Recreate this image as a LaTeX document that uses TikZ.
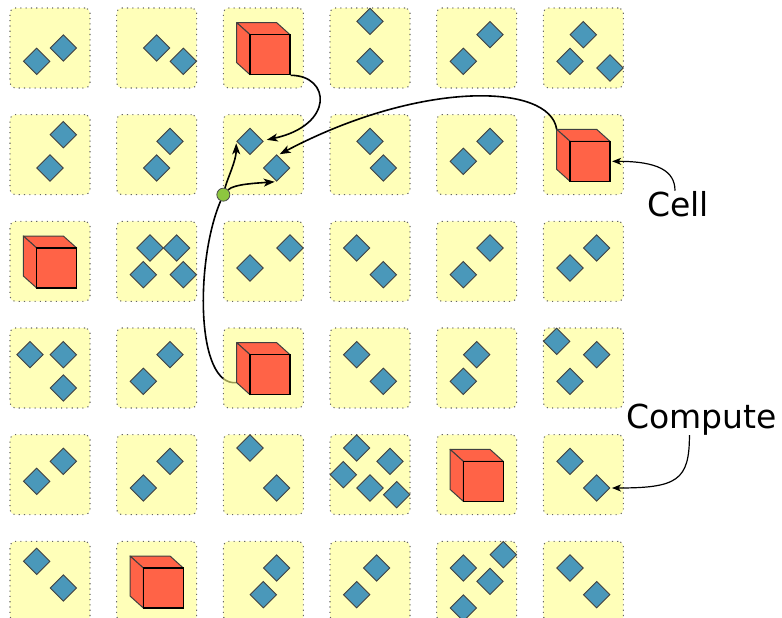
\documentclass[tikz,border=0pt]{standalone}
\usepackage{fontspec}
\setmainfont{DejaVu Sans}
\usetikzlibrary{shapes.geometric,arrows.meta,calc}
\pgfdeclarelayer{under}
\pgfdeclarelayer{boxes}
\pgfsetlayers{under,boxes,main}
\definecolor{boxy}{RGB}{255,255,138}
\definecolor{gemblue}{RGB}{74,152,186}
\definecolor{cubered}{RGB}{255,99,71}
\definecolor{dotgreen}{RGB}{141,198,63}
\begin{document}
\begin{tikzpicture}[x=13.3333pt,y=-13.3333pt,
  cellbox/.style={rectangle, draw=black!60, line width=1.1pt, dash pattern=on 1.1pt off 4.2pt,
    fill=boxy, fill opacity=0.6, rounded corners=5pt, minimum size=80pt, inner sep=0pt},
  gem/.style={diamond, draw=black!75, line width=0.9pt, fill=gemblue,
    minimum width=26.667pt, minimum height=26.667pt, inner sep=0pt},
  cubefront/.style={rectangle, draw=black, line width=1.3pt, fill=cubered, minimum size=40pt, inner sep=0pt},
  cubeface/.style={draw=black!75, line width=1pt, fill=cubered, line join=round},
  gdot/.style={circle, draw=black!70, line width=0.8pt, fill=dotgreen, minimum size=13pt, inner sep=0pt},
  conn/.style={line width=1.6pt, -{Stealth[length=11pt,width=8pt,inset=3pt]}},
  larrow/.style={line width=1.2pt, -{Stealth[length=9pt,width=7pt,inset=2.5pt]}},
  lab/.style={font=\fontsize{33}{40}\selectfont, inner sep=0pt}]
\useasboundingbox (0,0) rectangle (58.65,46.35);

% cell boxes
\begin{pgfonlayer}{boxes}
\foreach \c in {0,...,5}{\foreach \r in {0,...,5}{
  \node[cellbox] (b\c\r) at ({3.75+8*\c},{3.6+8*\r}) {};
}}
\end{pgfonlayer}

% compute diamonds
\foreach \c/\r/\lst in {
  0/0/{2/4,4/3}, 1/0/{3/3,5/4}, 3/0/{3/1,3/4}, 4/0/{4/2,2/4}, 5/0/{3/2,2/4,5/4.5},
  0/1/{4/1.5,3/4}, 1/1/{4/2,3/4}, 2/1/{2/2,4/4}, 3/1/{3/2,4/4}, 4/1/{4/2,2/3.5},
  1/2/{2.5/2,4.5/2,2/4,5/4}, 2/2/{2/3.5,5/2}, 3/2/{2/2,4/4}, 4/2/{4/2,2/4}, 5/2/{4/2,2/3.5},
  0/3/{1.5/2,4/2,4/4.5}, 1/3/{4/2,2/4}, 3/3/{2/2,4/4}, 4/3/{3/2,2/4}, 5/3/{1/1,4/2,2/4},
  0/4/{4/2,2/3.5}, 1/4/{4/2,2/4}, 2/4/{2/1,4/4}, 3/4/{2/1,4.5/2,1/3,3/4,5/4.5}, 5/4/{2/2,4/4},
  0/5/{2/1.5,4/3.5}, 2/5/{4/2,3/4}, 3/5/{3.5/2,2/4}, 4/5/{2/2,5/1,4/3,2/5}, 5/5/{2/2,4/4}}{
  \foreach \dx/\dy [count=\k] in \lst {
    \node[gem] (d\c\r\k) at ({0.75+8*\c+\dx},{0.6+8*\r+\dy}) {};
  }
}

% cells (cubes)
\foreach \c/\r in {2/0,5/1,0/2,2/3,4/4,1/5}{
  \pgfmathsetmacro{\cubx}{0.75+8*\c}
  \pgfmathsetmacro{\cuby}{0.6+8*\r}
  \draw[cubeface] (\cubx+1,\cuby+1.1) -- (\cubx+4,\cuby+1.1) -- (\cubx+5,\cuby+2) -- (\cubx+2,\cuby+2) -- cycle;
  \draw[cubeface] (\cubx+1,\cuby+1.1) -- (\cubx+2,\cuby+2) -- (\cubx+2,\cuby+5) -- (\cubx+1,\cuby+4.1) -- cycle;
  \node[cubefront] (k\c\r) at (\cubx+3.5,\cuby+3.5) {};
  \coordinate (kt\c\r) at (\cubx+1,\cuby+1.1);
  \coordinate (kb\c\r) at (\cubx+1,\cuby+4.1);
}

% green junction
\node[gdot] (g) at (16.75,14.6) {};

% connector under the boxes
\begin{pgfonlayer}{under}
\draw[line width=1.6pt] (g) .. controls +(-2.1,4.9) and +(-3.1,0.3) .. (kb23);
\end{pgfonlayer}

% connectors
\draw[conn] (k20.south east) .. controls +(3,0) and +(5.1,-1.1) .. ([xshift=3pt,yshift=1.5pt]d211.east);
\draw[conn] (kt51) .. controls +(-0.5,-3.5) and +(10.5,-5.55) .. ([xshift=3pt]d212.north);
\draw[conn] (g) .. controls +(0.3,-1.2) and +(0,1.3) .. ([yshift=-2pt]d211.west);
\draw[conn] (g) .. controls +(0.8,-0.8) and +(-1.3,0.1) .. ([xshift=-2pt]d212.south);

% labels
\node[lab, anchor=base] (cell) at (50.85,16.2) {Cell};
\node[lab, anchor=base west] (comp) at (46.95,32.1) {Compute};
\draw[larrow] ([xshift=-3pt]cell.north) .. controls +(0,-1.5) and +(3.4,0) .. ([xshift=1.5pt]k51.east);
\draw[larrow] ([xshift=-12pt]comp.south) .. controls +(0,3.4) and +(4.9,0) .. ([xshift=1.5pt]d542.east);
\end{tikzpicture}
\end{document}
